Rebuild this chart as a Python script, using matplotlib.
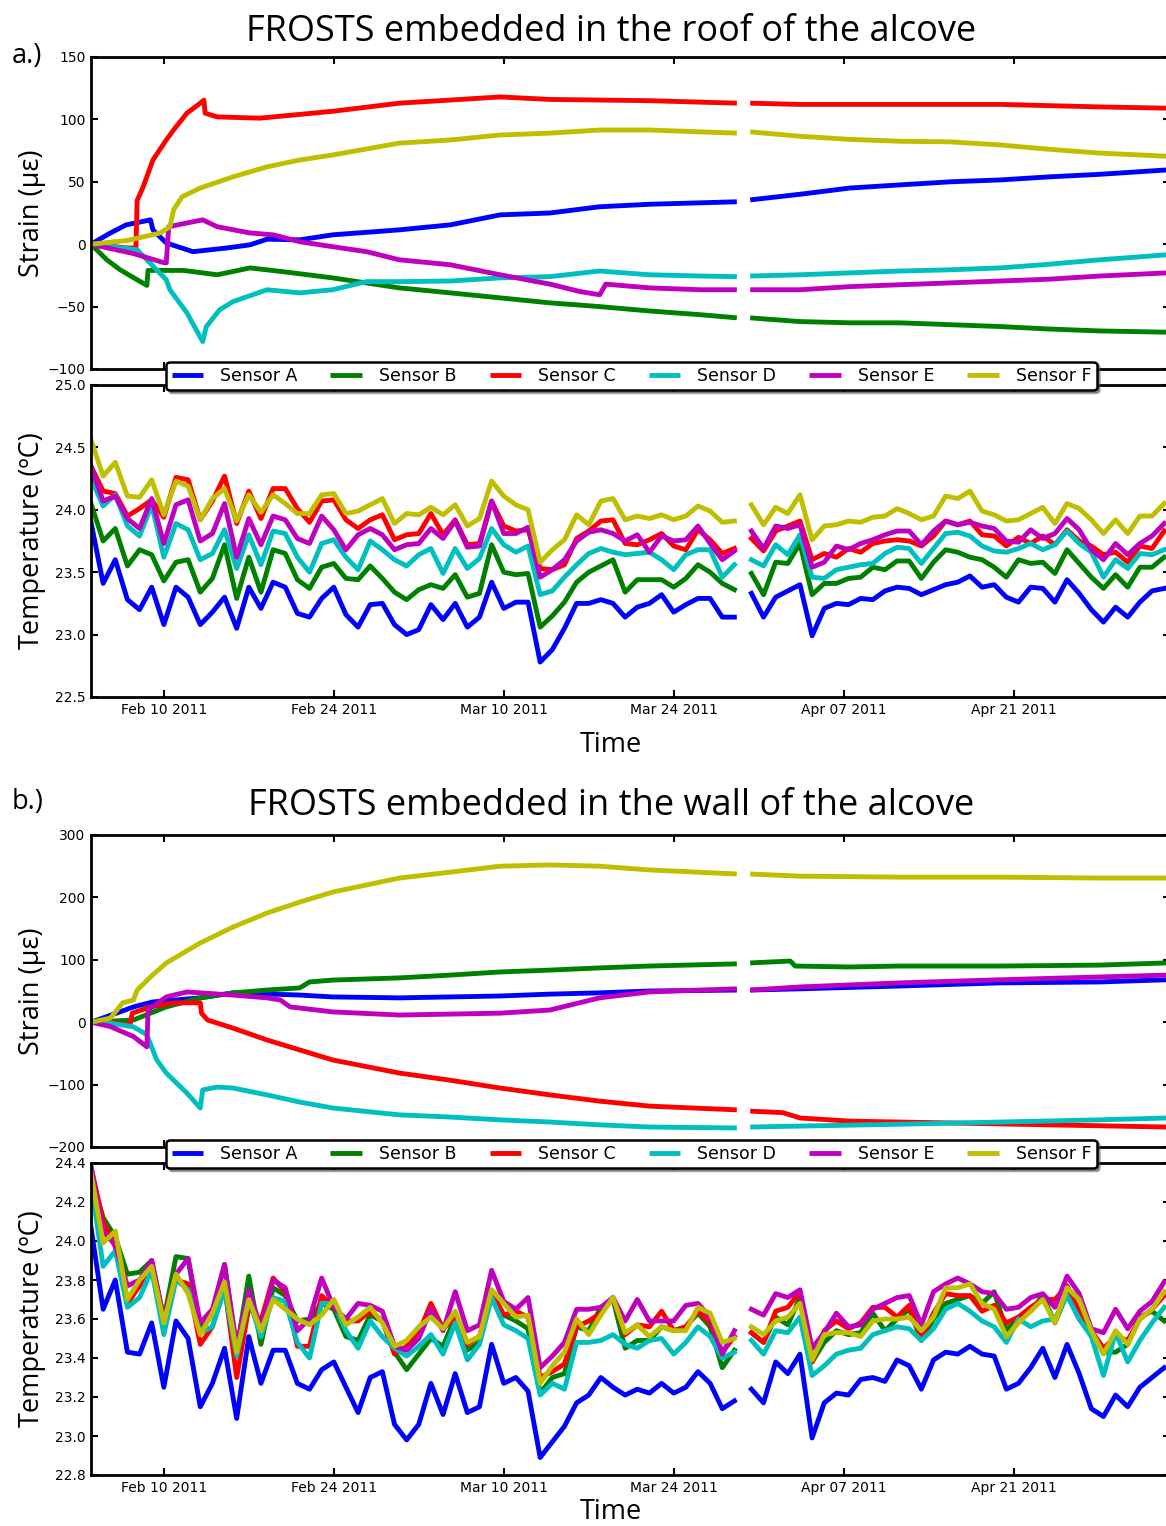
import numpy as np
import matplotlib
matplotlib.use('Agg')
import matplotlib.pyplot as plt
import matplotlib.dates as mdates
from matplotlib.ticker import MultipleLocator, FormatStrFormatter
from datetime import datetime

# ---- data -------------------------------------------------------------
START = datetime(2011, 2, 4)
GAP_DAY = 53.7          # no readings around Mar 29/30
SENSORS = ['Sensor A', 'Sensor B', 'Sensor C', 'Sensor D', 'Sensor E', 'Sensor F']
COLORS = ['b', 'g', 'r', 'c', 'm', 'y']
TICK_DATES = [datetime(2011, 2, 10), datetime(2011, 2, 24), datetime(2011, 3, 10),
              datetime(2011, 3, 24), datetime(2011, 4, 7), datetime(2011, 4, 21)]

# temperature sampled once a day (days since Feb 4), second block after the gap
temp_days = list(range(54)) + [54.4 + k for k in range(35)]

roof_temp = {
    'A': [23.90, 23.41, 23.60, 23.28, 23.20, 23.38, 23.08, 23.38, 23.30, 23.08,
          23.18, 23.30, 23.05, 23.38, 23.21, 23.42, 23.38, 23.17, 23.14, 23.29,
          23.38, 23.16, 23.06, 23.24, 23.25, 23.08, 23.00, 23.04, 23.24, 23.12,
          23.25, 23.06, 23.14, 23.42, 23.21, 23.26, 23.26, 22.78, 22.88, 23.05,
          23.25, 23.25, 23.28, 23.25, 23.14, 23.22, 23.25, 23.32, 23.18, 23.24,
          23.29, 23.29, 23.14, 23.14,
          23.33, 23.14, 23.30, 23.35, 23.40, 22.99, 23.21, 23.25, 23.24, 23.29,
          23.28, 23.35, 23.38, 23.37, 23.32, 23.36, 23.40, 23.42, 23.47, 23.38,
          23.40, 23.30, 23.26, 23.38, 23.37, 23.26, 23.44, 23.33, 23.20, 23.10,
          23.22, 23.14, 23.26, 23.35, 23.37],
    'B': [24.05, 23.75, 23.85, 23.55, 23.68, 23.64, 23.43, 23.58, 23.60, 23.34,
          23.45, 23.72, 23.29, 23.62, 23.34, 23.68, 23.65, 23.44, 23.37, 23.54,
          23.57, 23.45, 23.44, 23.55, 23.45, 23.34, 23.28, 23.36, 23.40, 23.37,
          23.48, 23.30, 23.33, 23.72, 23.50, 23.48, 23.49, 23.06, 23.15, 23.26,
          23.42, 23.50, 23.55, 23.60, 23.34, 23.44, 23.44, 23.44, 23.38, 23.45,
          23.56, 23.50, 23.41, 23.36,
          23.49, 23.32, 23.58, 23.57, 23.73, 23.32, 23.41, 23.41, 23.45, 23.46,
          23.54, 23.52, 23.59, 23.59, 23.45, 23.58, 23.68, 23.66, 23.62, 23.60,
          23.54, 23.46, 23.60, 23.57, 23.58, 23.49, 23.68, 23.57, 23.46, 23.37,
          23.48, 23.38, 23.54, 23.54, 23.62],
    'C': [24.35, 24.15, 24.13, 23.95, 24.01, 24.08, 23.94, 24.26, 24.24, 23.92,
          24.07, 24.27, 23.89, 24.15, 23.93, 24.17, 24.17, 24.01, 23.90, 24.07,
          24.08, 23.92, 23.85, 23.92, 23.96, 23.76, 23.80, 23.81, 23.97, 23.80,
          23.92, 23.72, 23.73, 24.07, 23.87, 23.83, 23.84, 23.53, 23.52, 23.56,
          23.77, 23.83, 23.91, 23.92, 23.73, 23.72, 23.76, 23.81, 23.71, 23.68,
          23.84, 23.76, 23.65, 23.69,
          23.77, 23.67, 23.83, 23.87, 23.91, 23.60, 23.65, 23.62, 23.69, 23.66,
          23.73, 23.75, 23.76, 23.75, 23.71, 23.79, 23.91, 23.88, 23.91, 23.80,
          23.79, 23.71, 23.78, 23.73, 23.79, 23.72, 23.84, 23.75, 23.71, 23.64,
          23.66, 23.58, 23.71, 23.69, 23.83],
    'D': [24.25, 24.03, 24.12, 23.87, 23.79, 24.04, 23.62, 23.89, 23.84, 23.60,
          23.65, 23.84, 23.53, 23.80, 23.56, 23.83, 23.81, 23.62, 23.50, 23.73,
          23.76, 23.62, 23.52, 23.75, 23.68, 23.60, 23.55, 23.64, 23.69, 23.49,
          23.69, 23.53, 23.61, 23.85, 23.72, 23.66, 23.71, 23.32, 23.35, 23.46,
          23.56, 23.65, 23.69, 23.66, 23.64, 23.65, 23.66, 23.60, 23.52, 23.64,
          23.68, 23.68, 23.46, 23.56,
          23.60, 23.55, 23.72, 23.64, 23.80, 23.46, 23.45, 23.52, 23.54, 23.56,
          23.57, 23.65, 23.70, 23.69, 23.57, 23.69, 23.81, 23.82, 23.79, 23.71,
          23.67, 23.66, 23.69, 23.73, 23.68, 23.72, 23.83, 23.73, 23.66, 23.46,
          23.60, 23.53, 23.65, 23.64, 23.68],
    'E': [24.35, 24.07, 24.11, 23.93, 23.85, 24.09, 23.73, 24.04, 24.08, 23.75,
          23.81, 24.05, 23.62, 23.93, 23.72, 23.95, 23.92, 23.77, 23.73, 23.95,
          23.84, 23.68, 23.80, 23.85, 23.80, 23.68, 23.72, 23.73, 23.85, 23.77,
          23.91, 23.70, 23.71, 24.07, 23.81, 23.81, 23.86, 23.46, 23.52, 23.60,
          23.75, 23.82, 23.84, 23.81, 23.75, 23.80, 23.66, 23.79, 23.75, 23.76,
          23.87, 23.73, 23.60, 23.67,
          23.83, 23.69, 23.87, 23.85, 23.88, 23.54, 23.58, 23.71, 23.68, 23.73,
          23.76, 23.80, 23.83, 23.83, 23.72, 23.83, 23.91, 23.88, 23.90, 23.87,
          23.85, 23.75, 23.74, 23.84, 23.77, 23.81, 23.93, 23.84, 23.68, 23.60,
          23.73, 23.64, 23.73, 23.79, 23.89],
    'F': [24.56, 24.27, 24.38, 24.11, 24.10, 24.24, 23.96, 24.23, 24.19, 23.92,
          24.09, 24.17, 23.91, 24.12, 23.98, 24.12, 24.05, 23.97, 23.97, 24.12,
          24.13, 23.97, 23.99, 24.04, 24.09, 23.89, 23.97, 23.96, 24.02, 23.96,
          24.04, 23.87, 23.93, 24.23, 24.11, 24.04, 24.00, 23.58, 23.68, 23.76,
          23.96, 23.88, 24.07, 24.09, 23.92, 23.95, 23.93, 23.96, 23.92, 23.95,
          24.03, 23.99, 23.90, 23.91,
          24.04, 23.88, 24.02, 23.97, 24.12, 23.76, 23.87, 23.88, 23.91, 23.90,
          23.94, 23.95, 24.01, 23.97, 23.92, 23.95, 24.11, 24.09, 24.15, 23.99,
          23.96, 23.91, 23.92, 23.97, 24.02, 23.89, 24.05, 24.01, 23.92, 23.81,
          23.92, 23.81, 23.95, 23.95, 24.05],
}

wall_temp = {
    'A': [24.07, 23.65, 23.80, 23.43, 23.42, 23.58, 23.25, 23.59, 23.50, 23.15,
          23.27, 23.45, 23.09, 23.51, 23.27, 23.44, 23.44, 23.27, 23.24, 23.34,
          23.38, 23.25, 23.12, 23.30, 23.33, 23.06, 22.98, 23.06, 23.27, 23.11,
          23.32, 23.12, 23.15, 23.47, 23.27, 23.30, 23.23, 22.89, 22.97, 23.05,
          23.17, 23.21, 23.30, 23.25, 23.21, 23.24, 23.22, 23.27, 23.22, 23.25,
          23.33, 23.27, 23.14, 23.18,
          23.24, 23.17, 23.38, 23.32, 23.42, 22.99, 23.17, 23.22, 23.21, 23.29,
          23.30, 23.28, 23.39, 23.36, 23.24, 23.39, 23.43, 23.42, 23.46, 23.42,
          23.41, 23.24, 23.27, 23.35, 23.45, 23.30, 23.47, 23.32, 23.14, 23.10,
          23.21, 23.15, 23.25, 23.30, 23.35],
    'B': [24.33, 24.12, 24.02, 23.83, 23.84, 23.90, 23.60, 23.92, 23.91, 23.54,
          23.63, 23.88, 23.44, 23.82, 23.47, 23.76, 23.72, 23.59, 23.60, 23.68,
          23.65, 23.51, 23.49, 23.62, 23.59, 23.43, 23.34, 23.42, 23.50, 23.46,
          23.61, 23.44, 23.48, 23.74, 23.62, 23.59, 23.55, 23.22, 23.30, 23.32,
          23.56, 23.54, 23.66, 23.70, 23.45, 23.49, 23.49, 23.56, 23.54, 23.56,
          23.63, 23.56, 23.35, 23.44,
          23.53, 23.48, 23.61, 23.57, 23.71, 23.38, 23.48, 23.54, 23.52, 23.53,
          23.63, 23.54, 23.60, 23.65, 23.49, 23.60, 23.68, 23.70, 23.72, 23.68,
          23.74, 23.54, 23.61, 23.64, 23.72, 23.58, 23.73, 23.60, 23.52, 23.43,
          23.43, 23.47, 23.61, 23.64, 23.59],
    'C': [24.38, 24.10, 23.97, 23.68, 23.77, 23.89, 23.59, 23.80, 23.78, 23.47,
          23.56, 23.77, 23.30, 23.66, 23.59, 23.81, 23.74, 23.46, 23.46, 23.72,
          23.66, 23.59, 23.59, 23.64, 23.59, 23.42, 23.46, 23.53, 23.68, 23.55,
          23.61, 23.47, 23.51, 23.74, 23.62, 23.64, 23.61, 23.30, 23.33, 23.37,
          23.56, 23.59, 23.63, 23.71, 23.52, 23.57, 23.56, 23.64, 23.54, 23.56,
          23.64, 23.58, 23.43, 23.51,
          23.53, 23.48, 23.64, 23.66, 23.74, 23.38, 23.54, 23.59, 23.55, 23.58,
          23.66, 23.66, 23.61, 23.67, 23.50, 23.63, 23.73, 23.72, 23.72, 23.64,
          23.67, 23.58, 23.61, 23.66, 23.70, 23.70, 23.77, 23.64, 23.54, 23.45,
          23.51, 23.49, 23.60, 23.65, 23.72],
    'D': [24.30, 23.87, 23.95, 23.66, 23.71, 23.85, 23.52, 23.80, 23.75, 23.53,
          23.56, 23.75, 23.41, 23.70, 23.51, 23.71, 23.69, 23.48, 23.40, 23.68,
          23.68, 23.54, 23.45, 23.59, 23.51, 23.45, 23.41, 23.46, 23.52, 23.42,
          23.58, 23.39, 23.47, 23.71, 23.57, 23.54, 23.50, 23.21, 23.27, 23.24,
          23.48, 23.48, 23.49, 23.52, 23.47, 23.45, 23.49, 23.50, 23.42, 23.48,
          23.56, 23.51, 23.40, 23.43,
          23.49, 23.42, 23.54, 23.53, 23.61, 23.31, 23.36, 23.42, 23.44, 23.45,
          23.52, 23.54, 23.56, 23.55, 23.49, 23.55, 23.65, 23.68, 23.64, 23.59,
          23.56, 23.48, 23.60, 23.56, 23.59, 23.60, 23.72, 23.60, 23.51, 23.31,
          23.53, 23.38, 23.49, 23.58, 23.66],
    'E': [24.38, 24.05, 23.98, 23.77, 23.80, 23.90, 23.60, 23.83, 23.91, 23.58,
          23.65, 23.88, 23.46, 23.75, 23.55, 23.80, 23.76, 23.54, 23.60, 23.81,
          23.66, 23.60, 23.68, 23.67, 23.64, 23.46, 23.44, 23.50, 23.65, 23.54,
          23.74, 23.54, 23.57, 23.85, 23.69, 23.65, 23.71, 23.35, 23.41, 23.48,
          23.65, 23.65, 23.66, 23.71, 23.59, 23.70, 23.59, 23.59, 23.59, 23.67,
          23.68, 23.61, 23.42, 23.54,
          23.65, 23.62, 23.73, 23.71, 23.75, 23.45, 23.53, 23.63, 23.56, 23.57,
          23.65, 23.68, 23.71, 23.72, 23.57, 23.74, 23.78, 23.81, 23.78, 23.74,
          23.73, 23.65, 23.66, 23.71, 23.73, 23.66, 23.82, 23.73, 23.55, 23.53,
          23.65, 23.55, 23.64, 23.69, 23.79],
    'F': [24.35, 23.99, 24.05, 23.70, 23.80, 23.87, 23.58, 23.83, 23.73, 23.52,
          23.63, 23.79, 23.43, 23.70, 23.54, 23.70, 23.65, 23.60, 23.57, 23.62,
          23.70, 23.57, 23.61, 23.66, 23.58, 23.46, 23.49, 23.56, 23.61, 23.55,
          23.64, 23.48, 23.51, 23.75, 23.68, 23.61, 23.62, 23.27, 23.36, 23.43,
          23.60, 23.52, 23.62, 23.71, 23.53, 23.57, 23.51, 23.56, 23.54, 23.54,
          23.66, 23.63, 23.48, 23.50,
          23.56, 23.52, 23.59, 23.61, 23.68, 23.39, 23.52, 23.53, 23.53, 23.51,
          23.59, 23.60, 23.60, 23.61, 23.54, 23.61, 23.76, 23.76, 23.78, 23.68,
          23.65, 23.51, 23.58, 23.64, 23.70, 23.58, 23.76, 23.70, 23.54, 23.42,
          23.54, 23.47, 23.60, 23.65, 23.74],
}

# strain: (days since Feb 4, micro-strain) read at the turning points
roof_strain = {
    'A': ([0, 1.6, 2.9, 4.9, 5.1, 6.2, 8.4, 11.2, 13.1, 14.5, 17.2, 19.9, 25.4, 29.6,
           33.7, 37.8, 41.9, 46.0, 53.2, 54.3, 58.4, 62.5, 66.6, 70.8, 74.9, 79.0, 83.1, 88.6],
          [0, 9, 15.5, 19.5, 11.5, 1, -6, -3, -0.5, 4, 3.5, 7.5, 11.5, 15.5,
           23.5, 25, 30, 32, 34, 35.5, 40, 45, 47.5, 50, 51.5, 54, 56, 59.5]),
    'B': ([0, 1.3, 2.4, 3.8, 4.6, 4.7, 7.6, 10.4, 13.1, 15.8, 19.9, 25.4, 29.6, 33.7,
           37.8, 41.9, 46.0, 50.2, 53.2, 54.3, 58.4, 62.5, 66.6, 70.8, 74.9, 79.0, 83.1, 88.6],
          [0, -12.5, -20.5, -28.5, -33, -21, -21, -24.5, -19, -22, -27, -35, -39, -43,
           -47, -50, -53.5, -56.5, -59, -59, -62, -63, -63, -64.5, -66, -68, -69.5, -70.5]),
    'C': ([0, 3.0, 3.7, 3.8, 4.3, 5.1, 6.2, 6.8, 7.9, 9.0, 9.3, 9.4, 10.4, 13.9, 17.2,
           19.9, 25.4, 29.6, 33.7, 37.8, 41.9, 46.0, 53.2, 54.3, 58.4, 66.6, 74.9, 83.1, 88.6],
          [0, -3, -3, 35, 46, 67.5, 83.5, 91.5, 105, 113, 115.5, 105, 102, 101, 104,
           106.5, 113, 115.5, 118, 116, 115.5, 115, 113, 113, 112, 112, 112, 110, 109]),
    'D': ([0, 3.8, 6.2, 6.5, 7.9, 9.2, 9.5, 10.6, 11.7, 14.5, 17.2, 19.9, 22.7, 25.4, 29.6,
           33.7, 37.8, 41.9, 46.0, 50.2, 53.2, 54.3, 58.4, 62.5, 66.6, 70.8, 74.9, 79.0, 83.1, 88.6],
          [0, -4.5, -28.5, -36.5, -55, -78, -66, -52.5, -46, -36.5, -39, -36.5, -30, -30, -29.5,
           -27, -26, -21.5, -24.5, -25.5, -26, -25.5, -24.5, -23, -21.5, -20.5, -19, -16, -12.5, -8.5]),
    'E': ([0, 1.6, 3.5, 5.9, 6.2, 6.4, 7.9, 9.2, 10.4, 13.1, 15.0, 17.2, 19.9, 22.7, 25.4,
           29.6, 33.7, 37.8, 40.3, 41.9, 42.4, 46.0, 50.2, 53.2, 54.3, 58.4, 62.5, 66.6, 70.8,
           74.9, 79.0, 83.1, 88.6],
          [0, -3.5, -7.5, -14.5, -15, 14, 17, 19.5, 14, 9, 7.5, 2, -2, -6, -12.5,
           -16.5, -24.5, -32, -38, -40.5, -32, -35, -36.5, -36.5, -36.5, -36.5, -34, -32.5, -31,
           -29.5, -28, -25.5, -23]),
    'F': ([0, 3.0, 5.7, 6.5, 6.8, 7.5, 9.0, 11.7, 14.5, 17.2, 19.9, 25.4, 29.6, 33.7,
           37.8, 41.9, 46.0, 50.2, 53.2, 54.3, 58.4, 62.5, 66.6, 70.8, 74.9, 79.0, 83.1, 88.6],
          [0, 3, 9, 14, 27.5, 38, 45, 54, 62, 67.5, 71.5, 81, 83.5, 87.5,
           89, 91.5, 91.5, 90, 89, 90, 86.5, 84, 82.5, 82, 79.5, 76, 73, 70.5]),
}

wall_strain = {
    'A': ([0, 2.1, 3.5, 5.1, 9.0, 11.7, 17.2, 19.9, 25.4, 29.6, 33.7, 37.8, 41.9, 46.0,
           53.2, 54.3, 58.4, 66.6, 74.9, 83.1, 88.6],
          [0, 14.5, 24.5, 32.5, 39, 47, 43.5, 40.5, 39, 40.5, 42, 45, 47, 50,
           51.5, 51.5, 53.5, 58, 63, 64.5, 68]),
    'B': ([0, 3.5, 4.9, 6.2, 9.0, 11.7, 14.5, 17.2, 18.0, 19.9, 25.4, 29.6, 33.7, 37.8,
           41.9, 46.0, 53.2, 54.3, 57.6, 58.0, 62.5, 66.6, 74.9, 83.1, 88.6],
          [0, 3.5, 14.5, 24.5, 39, 47, 51.5, 55, 64.5, 67.5, 71, 75.5, 80.5, 83.5,
           87, 90, 93.5, 95, 98, 90, 88.5, 90, 90, 91.5, 95]),
    'C': ([0, 1.6, 3.2, 3.4, 4.9, 6.8, 9.0, 9.1, 9.6, 11.7, 14.5, 17.2, 19.9, 25.4, 29.6,
           33.7, 37.8, 41.9, 46.0, 53.2, 54.3, 57.0, 58.4, 62.5, 66.6, 74.9, 83.1, 88.6],
          [0, 0, -5, 14.5, 24.5, 31, 31, 14.5, 3.5, -9.5, -28.5, -44.5, -60.5, -81.5, -93,
           -105.5, -116.5, -126.5, -134.5, -140.5, -142.5, -145, -153.5, -158.5, -160, -163,
           -166, -168]),
    'D': ([0, 1.6, 3.5, 4.6, 5.4, 6.2, 7.9, 9.0, 9.2, 10.4, 11.7, 14.5, 17.2, 19.9, 25.4,
           29.6, 33.7, 37.8, 41.9, 46.0, 53.2, 54.3, 58.4, 66.6, 74.9, 83.1, 88.6],
          [0, -1.5, -7.5, -20, -60, -81.5, -113.5, -137.5, -108.5, -104, -105.5, -116.5, -128,
           -137.5, -148.5, -152, -156.5, -160, -164.5, -168, -169.5, -168, -166.5, -163.5,
           -160, -156.5, -153.5]),
    'E': ([0, 1.6, 3.5, 4.6, 4.7, 6.2, 7.9, 9.0, 11.7, 14.5, 15.6, 16.4, 19.9, 25.4, 29.6,
           33.7, 37.8, 41.9, 46.0, 50.2, 53.2, 54.3, 58.4, 66.6, 74.9, 83.1, 88.6],
          [0, -7, -23, -39.5, 20, 40.5, 48.5, 47, 43.5, 39, 35.5, 24.5, 16.5, 11.5, 13,
           14.5, 19.5, 39, 48.5, 51.5, 53.5, 51.5, 56.5, 63, 68, 72.5, 75.5]),
    'F': ([0, 1.6, 2.6, 3.5, 3.8, 4.9, 6.2, 9.0, 11.7, 14.5, 17.2, 19.9, 25.4, 29.6, 33.7,
           37.8, 41.9, 46.0, 53.2, 54.3, 58.4, 66.6, 74.9, 83.1, 88.6],
          [0, 6.5, 31, 35.5, 51.5, 72.5, 95, 127, 152.5, 175, 192.5, 208.5, 231, 240.5, 250,
           252, 250, 244, 237.5, 237.5, 234, 232.5, 232.5, 231, 231]),
}

# ---- figure -----------------------------------------------------------
W, H = 1166, 1526
LABEL_FONT = ['Open Sans', 'DejaVu Sans']
plt.rcParams['axes.linewidth'] = 2.0

BASE = mdates.date2num(START)
XMAX = 88.84


def with_gap(days, vals):
    d = np.asarray(days, float)
    v = np.asarray(vals, float)
    i = np.searchsorted(d, GAP_DAY)
    return BASE + np.insert(d, i, GAP_DAY), np.insert(v, i, np.nan)


def px_axes(fig, top, bottom, left=91, right=1169.5):
    return fig.add_axes([left / W, 1 - bottom / H, (right - left) / W, (bottom - top) / H])


def style(ax):
    ax.set_xlim(BASE, BASE + XMAX)
    ax.set_xticks(mdates.date2num(TICK_DATES))
    ax.xaxis.set_major_formatter(mdates.DateFormatter('%b %d %Y'))
    ax.tick_params(direction='in', length=5, width=1.5, top=True, right=True,
                   labelsize=10, pad=4)


def panel(fig, strain, temp, y0, s_lim, s_step, t_lim, t_step, title, tag, tag_y, title_y, time_y):
    ax_s = px_axes(fig, y0, y0 + 312)
    ax_t = px_axes(fig, y0 + 328, y0 + 640)
    lines = []
    for key, name, col in zip('ABCDEF', SENSORS, COLORS):
        d, v = strain[key]
        x, y = with_gap(d, v)
        ln, = ax_s.plot(x, y, color=col, lw=3.5, label=name, solid_capstyle='butt')
        lines.append(ln)
        x, y = with_gap(temp_days, temp[key])
        ax_t.plot(x, y, color=col, lw=3.5)
    for ax in (ax_s, ax_t):
        style(ax)
    ax_s.tick_params(labelbottom=False)
    ax_s.set_ylim(*s_lim)
    ax_s.yaxis.set_major_locator(MultipleLocator(s_step))
    ax_t.set_ylim(*t_lim)
    ax_t.yaxis.set_major_locator(MultipleLocator(t_step))
    ax_t.yaxis.set_major_formatter(FormatStrFormatter('%.1f'))

    ax_s.set_ylabel('Strain (με)', fontsize=19.5, family=LABEL_FONT)
    ax_t.set_ylabel('Temperature (ºC)', fontsize=19.5, family=LABEL_FONT)
    for ax in (ax_s, ax_t):
        ax.yaxis.set_label_coords((46 - 91) / (1169.5 - 91), 0.5)

    fig.text(611 / W, 1 - title_y / H, title, fontsize=26, family=LABEL_FONT,
             ha='center', va='center')
    fig.text(12 / W, 1 - tag_y / H, tag, fontsize=19.5, family=LABEL_FONT,
             ha='left', va='center')
    fig.text(611 / W, 1 - time_y / H, 'Time', fontsize=19.5, family=LABEL_FONT,
             ha='center', va='center')

    leg = fig.legend(lines, SENSORS, loc='center', ncol=6,
                     bbox_to_anchor=(631.5 / W, 1 - (y0 + 319) / H),
                     fontsize=12.5, fancybox=True, shadow=True, framealpha=1,
                     handlelength=1.8, handletextpad=1.0, columnspacing=1.9,
                     borderpad=0.3)
    leg.get_frame().set_edgecolor('black')
    leg.get_frame().set_linewidth(1.8)


fig = plt.figure(figsize=(W / 100, H / 100), dpi=100)
panel(fig, roof_strain, roof_temp, 57, (-100, 150), 50, (22.5, 25.0), 0.5,
      'FROSTS embedded in the roof of the alcove', 'a.)', 56, 32, 745)
panel(fig, wall_strain, wall_temp, 835, (-200, 300), 100, (22.8, 24.4), 0.2,
      'FROSTS embedded in the wall of the alcove', 'b.)', 802, 806, 1512)

fig.savefig('out.png', dpi=100)
